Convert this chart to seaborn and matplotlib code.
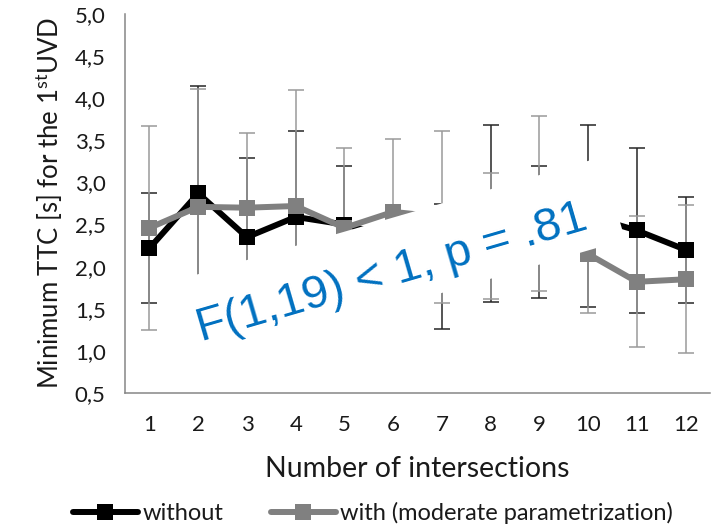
import numpy as np
import pandas as pd
import matplotlib
matplotlib.use("Agg")
import matplotlib.pyplot as plt
import matplotlib.transforms as mtransforms
from matplotlib.patches import Rectangle
from matplotlib.lines import Line2D
import seaborn as sns

# ---- data ----
intersections = [1, 2, 3, 4, 5, 6, 7, 8, 9, 10, 11, 12]
without_mean = [2.22, 2.87, 2.35, 2.59, 2.50, 2.35, 2.00, 2.63, 2.41, 2.60, 2.43, 2.20]
without_err = [0.65, 1.28, 0.94, 1.02, 0.69, 0.20, 0.74, 1.05, 0.78, 1.08, 0.98, 0.63]
with_mean = [2.46, 2.71, 2.70, 2.72, 2.46, 2.65, 2.59, 2.36, 2.75, 2.15, 1.82, 1.85]
with_err = [1.21, 1.40, 0.89, 1.38, 0.95, 0.87, 1.02, 0.75, 1.04, 0.70, 0.78, 0.88]
series_names = ["without", "with (moderate parametrization)"]
y_ticks = [0.5, 1.0, 1.5, 2.0, 2.5, 3.0, 3.5, 4.0, 4.5, 5.0]
y_tick_labels = ["0,5", "1,0", "1,5", "2,0", "2,5", "3,0", "3,5", "4,0", "4,5", "5,0"]
annotation = "F(1,19) < 1, p = .81"

sns.set_theme(style="white")
plt.rcParams["font.family"] = ["Lato", "DejaVu Sans"]
plt.rcParams["mathtext.fontset"] = "custom"
plt.rcParams["mathtext.rm"] = "Lato"

fig = plt.figure(figsize=(7.19, 5.26), dpi=100)
ax = fig.add_axes([0.174, 0.2529, 0.8135, 0.7205])

axis_col = "#868686"
black = "#000000"
gray = "#808080"
txt_col = "#1a1a1a"

df = pd.DataFrame({
    "x": intersections * 2,
    "y": without_mean + with_mean,
    "series": [series_names[0]] * 12 + [series_names[1]] * 12,
})

# error bars
ax.errorbar(intersections, without_mean, yerr=without_err, fmt="none",
            ecolor="#262626", elinewidth=1.1, capsize=5.5, capthick=1.1, zorder=2)
ax.errorbar(intersections, with_mean, yerr=with_err, fmt="none",
            ecolor="#9a9a9a", elinewidth=1.1, capsize=5.5, capthick=1.1, zorder=2.2)

sns.lineplot(data=df, x="x", y="y", hue="series", hue_order=series_names,
             palette=[black, gray], marker="s", markersize=12,
             markeredgewidth=0, linewidth=4.3, ax=ax, legend=False, zorder=3)
ax.lines[-1].set_zorder(3.5)

ax.set_xlim(0.5, 12.5)
ax.set_ylim(0.5, 5.0)
ax.set_yticks(y_ticks)
ax.set_yticklabels(y_tick_labels, fontsize=16)
ax.set_xticks(intersections)
ax.set_xticklabels([str(i) for i in intersections], fontsize=16)
ax.set_xticks(np.arange(0.5, 13.0, 1.0), minor=True)
ax.tick_params(axis="x", which="major", length=0, pad=16)
ax.tick_params(axis="x", which="minor", length=6, width=1.1, color=axis_col, direction="out")
ax.tick_params(axis="y", which="major", length=8, width=1.1, color=axis_col, direction="out", pad=6)
ax.tick_params(axis="both", labelcolor=txt_col)

for s in ["top", "right"]:
    ax.spines[s].set_visible(False)
for s in ["left", "bottom"]:
    ax.spines[s].set_color(axis_col)
    ax.spines[s].set_linewidth(1.1)

ax.set_xlabel("Number of intersections", fontsize=20.5, color=txt_col, labelpad=15)
ax.set_ylabel("Minimum TTC [s] for the 1$^{\\mathrm{st}}$UVD", fontsize=18.5, color=txt_col, labelpad=7)

# rotated white box behind the statistics annotation (pixel-sized, centred on a data point)
angle = 16.2
box_w, box_h = 453, 86
box_tr = (mtransforms.Affine2D().rotate_deg(angle)
          + mtransforms.ScaledTranslation(6.05, 2.06, ax.transData))
ax.add_patch(Rectangle((-box_w / 2, -box_h / 2), box_w, box_h, transform=box_tr,
                       facecolor="white", edgecolor="none", zorder=9, clip_on=False))
ax.text(5.97, 1.92, annotation, fontsize=34, color="#0070C0",
        family=["Liberation Sans", "DejaVu Sans"], rotation=angle,
        rotation_mode="anchor", ha="center", va="center", zorder=10)

handles = [Line2D([], [], color=black, lw=4.3, marker="s", markersize=11, markeredgewidth=0),
           Line2D([], [], color=gray, lw=4.3, marker="s", markersize=11, markeredgewidth=0)]
fig.legend(handles, series_names, loc="center", bbox_to_anchor=(0.519, 0.024), ncol=2,
           frameon=False, fontsize=17, handlelength=2.75, handletextpad=0.2,
           columnspacing=2.0, labelcolor=txt_col)

fig.savefig("out.png", dpi=100)
